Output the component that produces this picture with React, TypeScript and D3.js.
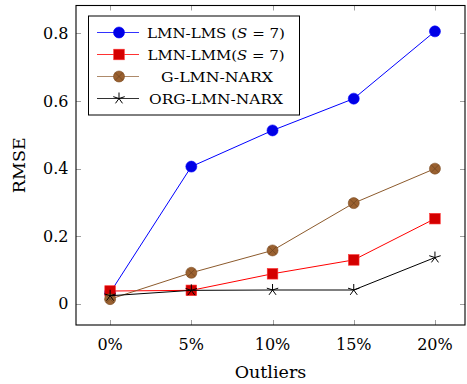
import React from "react";
import * as d3 from "d3";

const categories = ["0%", "5%", "10%", "15%", "20%"];
const xValues = [0, 5, 10, 15, 20];
const lmsValues = [0.033, 0.406, 0.513, 0.607, 0.806];
const lmmValues = [0.038, 0.04, 0.089, 0.13, 0.252];
const gNarxValues = [0.014, 0.092, 0.158, 0.298, 0.4];
const orgNarxValues = [0.024, 0.04, 0.041, 0.041, 0.137];
const yTicks = [0, 0.2, 0.4, 0.6, 0.8];
const seriesNames = ["LMN-LMS", "LMN-LMM", "G-LMN-NARX", "ORG-LMN-NARX"];

const W = 467;
const H = 384;
const box = { left: 76, right: 465, top: 5.5, bottom: 325 };
const FONT = "'DejaVu Serif', 'Liberation Serif', serif";

const x = d3.scaleLinear().domain([-2.1, 21.85]).range([box.left, box.right]);
const y = d3.scaleLinear().domain([-0.0625, 0.8825]).range([box.bottom, box.top]);

type Marker = "circle" | "square" | "otimes" | "star";

function MarkerShape({ kind, cx, cy }: { kind: Marker; cx: number; cy: number }) {
  if (kind === "circle") {
    return <circle cx={cx} cy={cy} r={5.5} fill="#0000e6" stroke="#0000ff" strokeWidth={0.6} />;
  }
  if (kind === "square") {
    return <rect x={cx - 5.3} y={cy - 5.3} width={10.6} height={10.6} fill="#d40000" stroke="#ff3333" strokeWidth={0.6} />;
  }
  if (kind === "otimes") {
    const r = 5.5;
    const d = r * Math.SQRT1_2;
    return (
      <g>
        <circle cx={cx} cy={cy} r={r} fill="#9a6130" stroke="#7a4a20" strokeWidth={0.6} />
        <line x1={cx - d} y1={cy - d} x2={cx + d} y2={cy + d} stroke="#6e4320" strokeWidth={0.7} />
        <line x1={cx - d} y1={cy + d} x2={cx + d} y2={cy - d} stroke="#6e4320" strokeWidth={0.7} />
      </g>
    );
  }
  const r = 6;
  const lines = d3.range(5).map((k) => {
    const a = (-90 + 72 * k) * (Math.PI / 180);
    return (
      <line key={k} x1={cx} y1={cy} x2={cx + r * Math.cos(a)} y2={cy + r * Math.sin(a)} stroke="#000" strokeWidth={1} />
    );
  });
  return <g>{lines}</g>;
}

const series: { name: string; values: number[]; color: string; marker: Marker }[] = [
  { name: seriesNames[0], values: lmsValues, color: "#0000ff", marker: "circle" },
  { name: seriesNames[1], values: lmmValues, color: "#ff0000", marker: "square" },
  { name: seriesNames[2], values: gNarxValues, color: "#8c5a2c", marker: "otimes" },
  { name: seriesNames[3], values: orgNarxValues, color: "#000000", marker: "star" },
];

const line = d3
  .line<[number, number]>()
  .x((d) => x(d[0]))
  .y((d) => y(d[1]));

export default function App() {
  const legend = { left: 88.5, top: 16, right: 299.5, bottom: 115 };
  const rowY = [32.5, 54.5, 76.5, 98.5];
  const textCx = 216;
  return (
    <svg width={W} height={H} style={{ position: "absolute", left: 0, top: 0 }} fontFamily={FONT}>
      <rect x={0} y={0} width={W} height={H} fill="#fff" />
      {/* ticks */}
      {xValues.map((v, i) => (
        <g key={"xt" + i} stroke="#a0a0a0" strokeWidth={1}>
          <line x1={Math.round(x(v)) + 0.5} x2={Math.round(x(v)) + 0.5} y1={box.bottom} y2={box.bottom - 5} />
          <line x1={Math.round(x(v)) + 0.5} x2={Math.round(x(v)) + 0.5} y1={box.top} y2={box.top + 5} />
        </g>
      ))}
      {yTicks.map((v, i) => (
        <g key={"yt" + i} stroke="#a0a0a0" strokeWidth={1}>
          <line x1={box.left} x2={box.left + 5} y1={Math.round(y(v)) + 0.5} y2={Math.round(y(v)) + 0.5} />
          <line x1={box.right} x2={box.right - 5} y1={Math.round(y(v)) + 0.5} y2={Math.round(y(v)) + 0.5} />
        </g>
      ))}
      {/* series */}
      {series.map((s) => {
        const pts = s.values.map((v, i) => [xValues[i], v] as [number, number]);
        return (
          <g key={s.name}>
            <path d={line(pts) || ""} fill="none" stroke={s.color} strokeWidth={1} />
            {pts.map((p, i) => (
              <MarkerShape key={i} kind={s.marker} cx={x(p[0])} cy={y(p[1])} />
            ))}
          </g>
        );
      })}
      {/* frame */}
      <rect x={box.left} y={box.top} width={box.right - box.left} height={box.bottom - box.top} fill="none" stroke="#000" strokeWidth={1.1} />
      {/* tick labels */}
      {categories.map((c, i) => (
        <text key={"xl" + i} x={x(xValues[i])} y={350} textAnchor="middle" fontSize={16} fill="#000">
          {c}
        </text>
      ))}
      {yTicks.map((v, i) => (
        <text key={"yl" + i} x={68.5} y={y(v) + 5.5} textAnchor="end" fontSize={16} fill="#000">
          {v === 0 ? "0" : v.toFixed(1)}
        </text>
      ))}
      {/* axis titles */}
      <text x={(box.left + box.right) / 2} y={378} textAnchor="middle" fontSize={17.5} fill="#000">
        Outliers
      </text>
      <text transform={`translate(25,${(box.top + box.bottom) / 2}) rotate(-90)`} textAnchor="middle" fontSize={17.5} fill="#000">
        RMSE
      </text>
      {/* legend */}
      <rect x={legend.left} y={legend.top} width={legend.right - legend.left} height={legend.bottom - legend.top} fill="#fff" stroke="#000" strokeWidth={1} />
      {series.map((s, i) => (
        <g key={"lg" + i}>
          <line x1={97} x2={139} y1={rowY[i]} y2={rowY[i]} stroke={s.color} strokeWidth={1} opacity={i === 2 ? 0.7 : 0.8} />
          <MarkerShape kind={s.marker} cx={119} cy={rowY[i]} />
        </g>
      ))}
      <text x={textCx} y={rowY[0] + 5} textAnchor="middle" fontSize={13} fill="#000" textLength={138} lengthAdjust="spacingAndGlyphs">
        {"LMN-LMS ("}
        <tspan fontStyle="italic">S</tspan>
        {" = 7)"}
      </text>
      <text x={textCx} y={rowY[1] + 5} textAnchor="middle" fontSize={13} fill="#000" textLength={137} lengthAdjust="spacingAndGlyphs">
        {"LMN-LMM("}
        <tspan fontStyle="italic">S</tspan>
        {" = 7)"}
      </text>
      <text x={textCx + 1} y={rowY[2] + 5} textAnchor="middle" fontSize={13} fill="#000" textLength={112} lengthAdjust="spacingAndGlyphs">
        G-LMN-NARX
      </text>
      <text x={textCx} y={rowY[3] + 5} textAnchor="middle" fontSize={13} fill="#000" textLength={134} lengthAdjust="spacingAndGlyphs">
        ORG-LMN-NARX
      </text>
    </svg>
  );
}
